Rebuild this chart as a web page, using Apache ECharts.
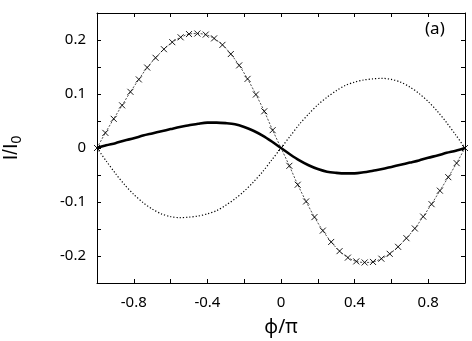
<!DOCTYPE html>
<html>
<head>
<meta charset="utf-8">
<script src="https://cdn.jsdelivr.net/npm/echarts@6/dist/echarts.min.js"></script>
<style>
  html, body { margin: 0; padding: 0; background: #fff; }
  #chart { width: 472px; height: 341px; }
</style>
</head>
<body>
<div id="chart"></div>
<script>
// phi/pi sample positions for the crossed curve (step 1/22)
var xCross = [-1, -0.9545, -0.9091, -0.8636, -0.8182, -0.7727, -0.7273, -0.6818, -0.6364, -0.5909, -0.5455,
  -0.5, -0.4545, -0.4091, -0.3636, -0.3182, -0.2727, -0.2273, -0.1818, -0.1364, -0.0909, -0.0455,
  0, 0.0455, 0.0909, 0.1364, 0.1818, 0.2273, 0.2727, 0.3182, 0.3636, 0.4091, 0.4545,
  0.5, 0.5455, 0.5909, 0.6364, 0.6818, 0.7273, 0.7727, 0.8182, 0.8636, 0.9091, 0.9545, 1];
var yCross = [0, 0.028, 0.054, 0.079, 0.104, 0.127, 0.149, 0.167, 0.183, 0.196, 0.205,
  0.211, 0.212, 0.210, 0.203, 0.191, 0.174, 0.153, 0.128, 0.099, 0.068, 0.033,
  0, -0.033, -0.068, -0.099, -0.128, -0.153, -0.174, -0.191, -0.203, -0.210, -0.212,
  -0.211, -0.205, -0.196, -0.183, -0.167, -0.149, -0.127, -0.104, -0.079, -0.054, -0.028, 0];

// phi/pi positions for the solid and dotted curves (step 0.05)
var xLine = [-1, -0.95, -0.9, -0.85, -0.8, -0.75, -0.7, -0.65, -0.6, -0.55, -0.5,
  -0.45, -0.4, -0.35, -0.3, -0.25, -0.2, -0.15, -0.1, -0.05, 0,
  0.05, 0.1, 0.15, 0.2, 0.25, 0.3, 0.35, 0.4, 0.45, 0.5,
  0.55, 0.6, 0.65, 0.7, 0.75, 0.8, 0.85, 0.9, 0.95, 1];
var ySolid = [0, 0.005, 0.009, 0.014, 0.018, 0.023, 0.027, 0.031, 0.035, 0.039, 0.042,
  0.045, 0.047, 0.047, 0.046, 0.044, 0.039, 0.032, 0.023, 0.012, 0,
  -0.012, -0.023, -0.032, -0.039, -0.044, -0.046, -0.047, -0.047, -0.045, -0.042,
  -0.039, -0.035, -0.031, -0.027, -0.023, -0.018, -0.014, -0.009, -0.005, 0];
var yDotted = [0, -0.024, -0.047, -0.068, -0.086, -0.101, -0.113, -0.122, -0.127, -0.129, -0.128,
  -0.126, -0.122, -0.116, -0.106, -0.094, -0.080, -0.063, -0.044, -0.022, 0,
  0.022, 0.044, 0.063, 0.080, 0.094, 0.106, 0.116, 0.122, 0.126, 0.128,
  0.129, 0.127, 0.122, 0.113, 0.101, 0.086, 0.068, 0.047, 0.024, 0];

function pairs(xs, ys) {
  var out = [];
  for (var i = 0; i < xs.length; i++) out.push([xs[i], ys[i]]);
  return out;
}

var font = '"Noto Sans", sans-serif';
var nameFont = '"Liberation Sans", Arial, sans-serif';
var chart = echarts.init(document.getElementById('chart'));

var tickIn = { show: true, inside: true, length: 4, lineStyle: { color: '#000', width: 1 } };
var lineBlack = { show: true, onZero: false, lineStyle: { color: '#000', width: 1 } };

function fmt(v) {
  return (v < 0 ? '-' : '') + Math.abs(v).toFixed(1);
}

chart.setOption({
  animation: false,
  backgroundColor: '#fff',
  textStyle: { fontFamily: font },
  grid: { left: 97, right: 7, top: 13, bottom: 58, containLabel: false, outerBoundsMode: 'none' },
  xAxis: [{
    type: 'value', min: -1, max: 1, interval: 0.2,
    name: 'ϕ/π', nameLocation: 'middle', nameGap: 35,
    nameTextStyle: { fontFamily: font, fontSize: 19, color: '#000' },
    axisLine: lineBlack, axisTick: tickIn, splitLine: { show: false },
    axisLabel: {
      fontFamily: font, fontSize: 15, color: '#000', margin: 12,
      formatter: function (v) {
        var k = Math.round(v * 5);
        if (k % 2 !== 0) return '';
        return k === 0 ? '0' : fmt(v);
      }
    }
  }, {
    type: 'value', position: 'top', min: -1, max: 1, interval: 0.2,
    axisLine: lineBlack, axisTick: tickIn, axisLabel: { show: false }, splitLine: { show: false }
  }],
  yAxis: [{
    type: 'value', min: -0.25, max: 0.25, interval: 0.05,
    name: '{a|I/I}{s|0}', nameLocation: 'middle', nameGap: 73, nameRotate: 90,
    nameTextStyle: {
      fontFamily: nameFont, fontSize: 20, color: '#000',
      rich: {
        a: { fontFamily: nameFont, fontSize: 20, color: '#000' },
        s: { fontFamily: nameFont, fontSize: 14, color: '#000', padding: [12, 0, 0, 0] }
      }
    },
    axisLine: lineBlack, axisTick: tickIn, splitLine: { show: false },
    axisLabel: {
      fontFamily: font, fontSize: 15, color: '#000', margin: 11,
      formatter: function (v) {
        var k = Math.round(v * 20);
        if (k % 2 !== 0) return '';
        return k === 0 ? '0' : fmt(v);
      }
    }
  }, {
    type: 'value', position: 'right', min: -0.25, max: 0.25, interval: 0.05,
    axisLine: lineBlack, axisTick: tickIn, axisLabel: { show: false }, splitLine: { show: false }
  }],
  series: [{
    type: 'line',
    data: pairs(xLine, yDotted),
    showSymbol: false,
    smooth: 0.3,
    lineStyle: { color: '#000', width: 1.2, type: [1.2, 2] },
    z: 2
  }, {
    type: 'line',
    data: pairs(xCross, yCross),
    symbol: 'path://M0,0L10,10M10,0L0,10',
    symbolSize: 6,
    smooth: 0.3,
    itemStyle: { color: 'rgba(0,0,0,0)', borderColor: '#000', borderWidth: 0.9 },
    lineStyle: { color: '#222', width: 0.8, type: [2, 1.5] },
    z: 3
  }, {
    type: 'line',
    data: pairs(xLine, ySolid),
    showSymbol: false,
    smooth: 0.3,
    lineStyle: { color: '#000', width: 2.6 },
    z: 4
  }],
  graphic: [{
    type: 'text', left: 425, top: 21,
    style: { text: '(a)', font: '17px "Noto Sans"', fill: '#000' }
  }]
});
</script>
</body>
</html>
